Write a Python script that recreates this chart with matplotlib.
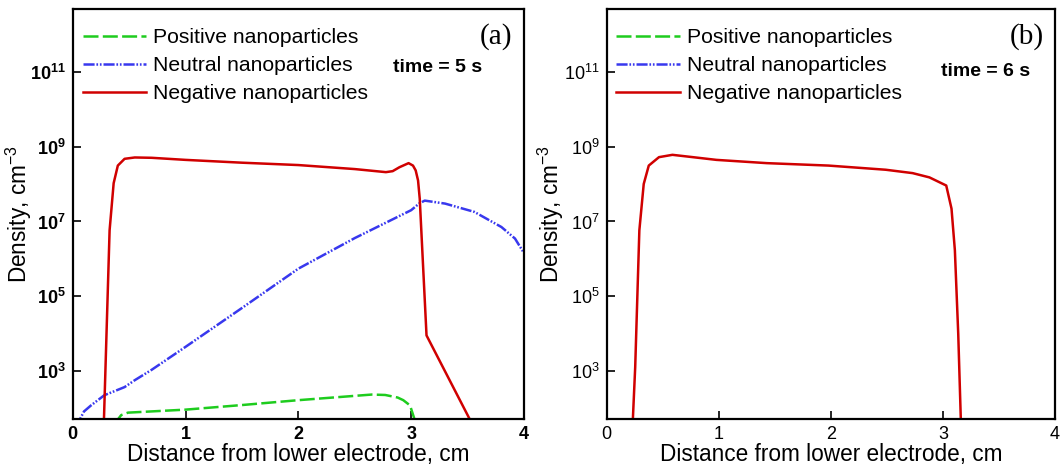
import matplotlib
matplotlib.use("Agg")
import matplotlib.pyplot as plt
from matplotlib.ticker import FixedLocator, FuncFormatter

plt.rcParams['font.family'] = ['Liberation Sans', 'DejaVu Sans']
plt.rcParams['mathtext.fontset'] = 'custom'
plt.rcParams['mathtext.rm'] = 'Liberation Sans'
plt.rcParams['mathtext.bf'] = 'Liberation Sans:bold'
plt.rcParams['mathtext.it'] = 'Liberation Sans:italic'
plt.rcParams['lines.scale_dashes'] = False

# ---------------- data: panel (a), time = 5 s ----------------
a_neg_x = [0.270, 0.277, 0.327, 0.363, 0.400, 0.460, 0.550, 0.700, 1.000, 1.500,
           2.000, 2.500, 2.776, 2.836, 2.896, 2.977, 3.016, 3.040, 3.061, 3.076,
           3.136, 3.520, 3.600]
a_neg_y = [2.0e1, 5.2e1, 5.8e6, 1.05e8, 3.1e8, 4.7e8, 5.1e8, 5.0e8, 4.4e8, 3.7e8,
           3.2e8, 2.5e8, 2.07e8, 2.2e8, 2.8e8, 3.6e8, 3.1e8, 2.3e8, 1.24e8, 4.0e7,
           9.1e3, 5.2e1, 1.8e1]

a_neu_x = [0.040, 0.063, 0.100, 0.162, 0.280, 0.460, 0.550, 0.700, 1.000, 1.500,
           2.000, 2.500, 3.000, 3.070, 3.120, 3.300, 3.560, 3.800, 3.920, 3.990]
a_neu_y = [2.5e1, 5.2e1, 8.5e1, 1.23e2, 2.3e2, 3.8e2, 5.8e2, 1.1e3, 4.5e3, 4.9e4,
           5.5e5, 3.6e6, 2.0e7, 3.0e7, 3.6e7, 3.0e7, 1.8e7, 7.1e6, 3.5e6, 1.6e6]

a_pos_x = [0.385, 0.400, 0.430, 0.490, 1.000, 1.500, 2.000, 2.650, 2.770, 2.880,
           2.930, 2.990, 3.030, 3.040]
a_pos_y = [3.2e1, 5.2e1, 6.8e1, 7.9e1, 9.5e1, 1.26e2, 1.7e2, 2.4e2, 2.34e2, 2.0e2,
           1.7e2, 1.23e2, 5.2e1, 3.2e1]

# ---------------- data: panel (b), time = 6 s ----------------
b_neg_x = [0.230, 0.235, 0.256, 0.293, 0.332, 0.377, 0.468, 0.588, 0.770, 0.980,
           1.430, 1.980, 2.490, 2.730, 2.880, 3.030, 3.077, 3.107, 3.137, 3.160, 3.165]
b_neg_y = [2.0e1, 5.2e1, 1.3e3, 5.8e6, 1.0e8, 3.1e8, 5.2e8, 6.0e8, 5.2e8, 4.4e8,
           3.6e8, 3.1e8, 2.4e8, 1.95e8, 1.5e8, 9.1e7, 2.2e7, 1.7e6, 1.0e4, 5.2e1, 2.0e1]
b_neu_x, b_neu_y = [], []
b_pos_x, b_pos_y = [], []

x_ticks = [0, 1, 2, 3, 4]
y_ticks = [1e3, 1e5, 1e7, 1e9, 1e11]
y_exps = {1e3: '3', 1e5: '5', 1e7: '7', 1e9: '9', 1e11: '11'}
labels = ['Positive nanoparticles', 'Neutral nanoparticles', 'Negative nanoparticles']
panel_tags = ['(a)', '(b)']
time_texts = ['time = 5 s', 'time = 6 s']

GREEN = '#1ecc1e'
BLUE = '#3838ee'
RED = '#d00000'
LW = 1.8

W, H = 1062, 466
fig = plt.figure(figsize=(W / 100, H / 100), dpi=100)

def px_axes(l, r, t, b):
    return fig.add_axes([l / W, 1 - b / H, (r - l) / W, (b - t) / H])

ax_a = px_axes(72.7, 524.0, 9.0, 419.3)
ax_b = px_axes(606.5, 1055.0, 9.0, 419.3)

panels = [
    (ax_a, (a_pos_x, a_pos_y), (a_neu_x, a_neu_y), (a_neg_x, a_neg_y), True, -0.085),
    (ax_b, (b_pos_x, b_pos_y), (b_neu_x, b_neu_y), (b_neg_x, b_neg_y), False, -0.090),
]

for i, (ax, pos, neu, neg, bold, ylab_x) in enumerate(panels):
    l1, = ax.plot(pos[0], pos[1], color=GREEN, lw=LW, dashes=(10.8, 3.1),
                  label=labels[0], dash_capstyle='butt')
    l2, = ax.plot(neu[0], neu[1], color=BLUE, lw=LW,
                  dashes=(8.0, 1.3, 1.2, 1.3, 1.2, 1.4), label=labels[1],
                  dash_capstyle='butt')
    l3, = ax.plot(neg[0], neg[1], color=RED, lw=LW, label=labels[2])
    ax.set_yscale('log')
    ax.set_xlim(0, 4)
    ax.set_ylim(10 ** 1.72, 10 ** 12.67)
    ax.xaxis.set_major_locator(FixedLocator(x_ticks))
    ax.yaxis.set_major_locator(FixedLocator(y_ticks))
    ax.yaxis.set_minor_locator(FixedLocator([]))
    ax.xaxis.set_minor_locator(FixedLocator([]))
    if bold:
        ax.yaxis.set_major_formatter(FuncFormatter(
            lambda v, p: r'$\mathbf{10^{%s}}$' % y_exps.get(v, '')))
    else:
        ax.yaxis.set_major_formatter(FuncFormatter(
            lambda v, p: r'$\mathrm{10^{%s}}$' % y_exps.get(v, '')))
    ax.xaxis.set_major_formatter(FuncFormatter(lambda v, p: '%d' % v))
    ax.tick_params(axis='both', which='major', direction='in', length=6,
                   width=1.2, labelsize=13, pad=5, top=False, right=False)
    if bold:
        for t in ax.get_xticklabels():
            t.set_fontweight('bold')
    for s in ax.spines.values():
        s.set_linewidth(1.6)
    ax.set_xlabel('Distance from lower electrode, cm', fontsize=16.3, labelpad=0)
    ax.set_ylabel(r'Density, cm$^{\mathrm{-3}}$', fontsize=16.3)
    ax.yaxis.set_label_coords(ylab_x, 0.5)
    ax.legend(handles=[l1, l2, l3], loc='upper left', frameon=False,
              fontsize=15.2, handlelength=3.0, handletextpad=0.33,
              labelspacing=0.42, borderpad=0, borderaxespad=0,
              bbox_to_anchor=(0.022, 0.953))
    ax.text(0.975, 0.965, panel_tags[i], transform=ax.transAxes, ha='right',
            va='top', fontsize=21, family='Liberation Serif')

ax_a.text(0.908, 0.858, time_texts[0], transform=ax_a.transAxes, ha='right',
          va='center', fontsize=14, fontweight='bold')
ax_b.text(0.945, 0.847, time_texts[1], transform=ax_b.transAxes, ha='right',
          va='center', fontsize=14, fontweight='bold')

fig.savefig('out.png', dpi=100)
